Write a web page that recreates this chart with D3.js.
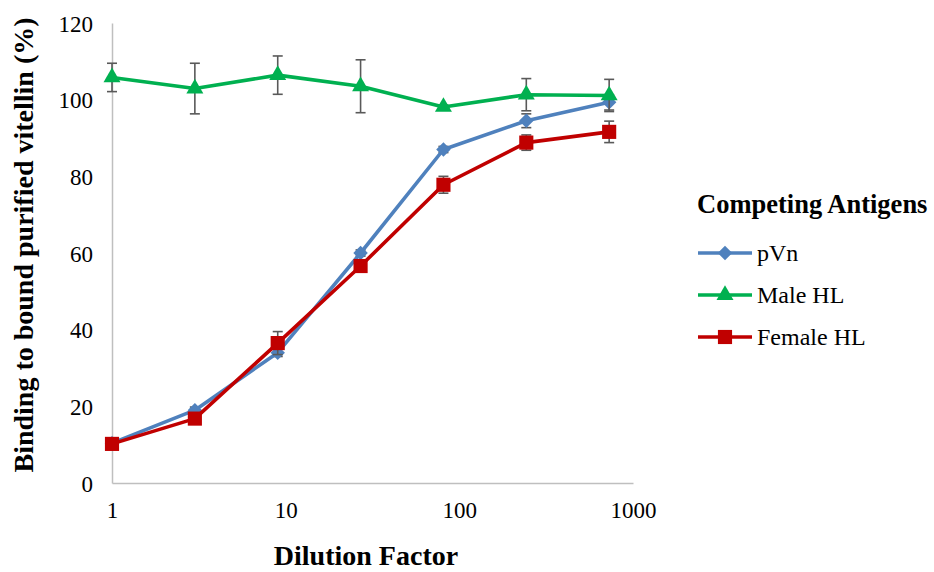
<!DOCTYPE html>
<html lang="en">
<head>
  <meta charset="UTF-8" />
  <title>Competing Antigens</title>
  <script src="https://d3js.org/d3.v7.min.js"></script>
  <style>
    body { margin: 0; background: #fff; }
    svg { display: block; font-family: "Liberation Serif", "Times New Roman", serif; }
  </style>
</head>
<body>
  <svg width="934" height="572"></svg>
  <script>
    // Data
    const dilutions = [1, 3, 9, 27, 81, 243, 729];
    const xTicks = [1, 10, 100, 1000];
    const yTicks = [0, 20, 40, 60, 80, 100, 120];

    const seriesNames = ["pVn", "Male HL", "Female HL"];
    const pvnValues = [10.4, 19, 34, 60, 87, 94.5, 99.3];
    const pvnErrors = [0.8, 0.8, 1, 0.8, 0.8, 1.8, 2];
    const maleValues = [105.8, 102.9, 106.4, 103.5, 98.1, 101.3, 101.1];
    const maleErrors = [3.7, 6.6, 5, 6.9, 0.5, 4.2, 4.2];
    const femaleValues = [10.2, 16.8, 36.5, 56.6, 77.8, 88.8, 91.6];
    const femaleErrors = [0.8, 0.8, 3, 0.8, 2.2, 2, 2.8];

    const colors = ["#4f81bd", "#00b050", "#c00000"];
    // diamond = square turned 45 degrees, like the spreadsheet marker
    const symbols = [d3.symbolSquare, d3.symbolTriangle, d3.symbolSquare];
    const symbolSizes = [105, 125, 200];
    const symbolRotate = [45, 0, 0];

    const series = seriesNames.map((name, i) => ({
      name,
      color: colors[i],
      symbol: symbols[i],
      size: symbolSizes[i],
      rot: symbolRotate[i],
      points: dilutions.map((x, j) => ({
        x,
        y: [pvnValues, maleValues, femaleValues][i][j],
        e: [pvnErrors, maleErrors, femaleErrors][i][j]
      }))
    }));

    const svg = d3.select("svg");
    const plotLeft = 112, plotRight = 633, plotTop = 23, plotBottom = 483;

    const x = d3.scaleLog().domain([1, 1000]).range([plotLeft, plotRight]);
    const y = d3.scaleLinear().domain([0, 120]).range([plotBottom, plotTop]);

    // axes (no tick marks, gray domain)
    const xAxis = svg.append("g")
      .attr("transform", `translate(0,${plotBottom})`)
      .call(d3.axisBottom(x).tickValues(xTicks).tickFormat(d3.format("d")).tickSize(0).tickPadding(19));
    const yAxis = svg.append("g")
      .attr("transform", `translate(${plotLeft},0)`)
      .call(d3.axisLeft(y).tickValues(yTicks).tickSize(0).tickPadding(19));

    [xAxis, yAxis].forEach(g => {
      g.attr("font-family", null);
      g.select(".domain").attr("stroke", "#bfbfbf").attr("stroke-width", 1.5);
      g.selectAll("text")
        .attr("font-family", "Liberation Serif")
        .attr("font-size", 23)
        .attr("fill", "#000");
    });
    yAxis.selectAll("text").attr("dy", "0.35em");

    // axis titles
    svg.append("text")
      .attr("x", 366).attr("y", 565)
      .attr("text-anchor", "middle")
      .attr("font-size", 28).attr("font-weight", "bold")
      .text("Dilution Factor");

    svg.append("text")
      .attr("transform", "translate(33,245) rotate(-90)")
      .attr("text-anchor", "middle")
      .attr("font-size", 28).attr("font-weight", "bold")
      .text("Binding to bound purified vitellin (%)");

    const line = d3.line().x(d => x(d.x)).y(d => y(d.y));

    series.forEach(s => {
      const g = svg.append("g");

      // error bars
      const eb = g.selectAll(".err").data(s.points).enter().append("g")
        .attr("stroke", "#595959").attr("stroke-width", 1.6);
      eb.append("line")
        .attr("x1", d => x(d.x)).attr("x2", d => x(d.x))
        .attr("y1", d => y(d.y - d.e)).attr("y2", d => y(d.y + d.e));
      eb.append("line")
        .attr("x1", d => x(d.x) - 5).attr("x2", d => x(d.x) + 5)
        .attr("y1", d => y(d.y + d.e)).attr("y2", d => y(d.y + d.e));
      eb.append("line")
        .attr("x1", d => x(d.x) - 5).attr("x2", d => x(d.x) + 5)
        .attr("y1", d => y(d.y - d.e)).attr("y2", d => y(d.y - d.e));

      g.append("path")
        .datum(s.points)
        .attr("d", line)
        .attr("fill", "none")
        .attr("stroke", s.color)
        .attr("stroke-width", 3.6)
        .attr("stroke-linejoin", "round");

      g.selectAll(".mk").data(s.points).enter().append("path")
        .attr("transform", d => `translate(${x(d.x)},${y(d.y)}) rotate(${s.rot})`)
        .attr("d", d3.symbol().type(s.symbol).size(s.size))
        .attr("fill", s.color);
    });

    // legend
    const legend = svg.append("g");
    legend.append("text")
      .attr("x", 697).attr("y", 213)
      .attr("font-size", 26.5).attr("font-weight", "bold")
      .text("Competing Antigens");

    series.forEach((s, i) => {
      const ly = 253 + i * 42;
      legend.append("line")
        .attr("x1", 698).attr("x2", 752)
        .attr("y1", ly).attr("y2", ly)
        .attr("stroke", s.color).attr("stroke-width", 3.6);
      legend.append("path")
        .attr("transform", `translate(725,${ly}) rotate(${s.rot})`)
        .attr("d", d3.symbol().type(s.symbol).size(s.size))
        .attr("fill", s.color);
      legend.append("text")
        .attr("x", 757).attr("y", ly + 8)
        .attr("font-size", 24)
        .text(s.name);
    });
  </script>
</body>
</html>
